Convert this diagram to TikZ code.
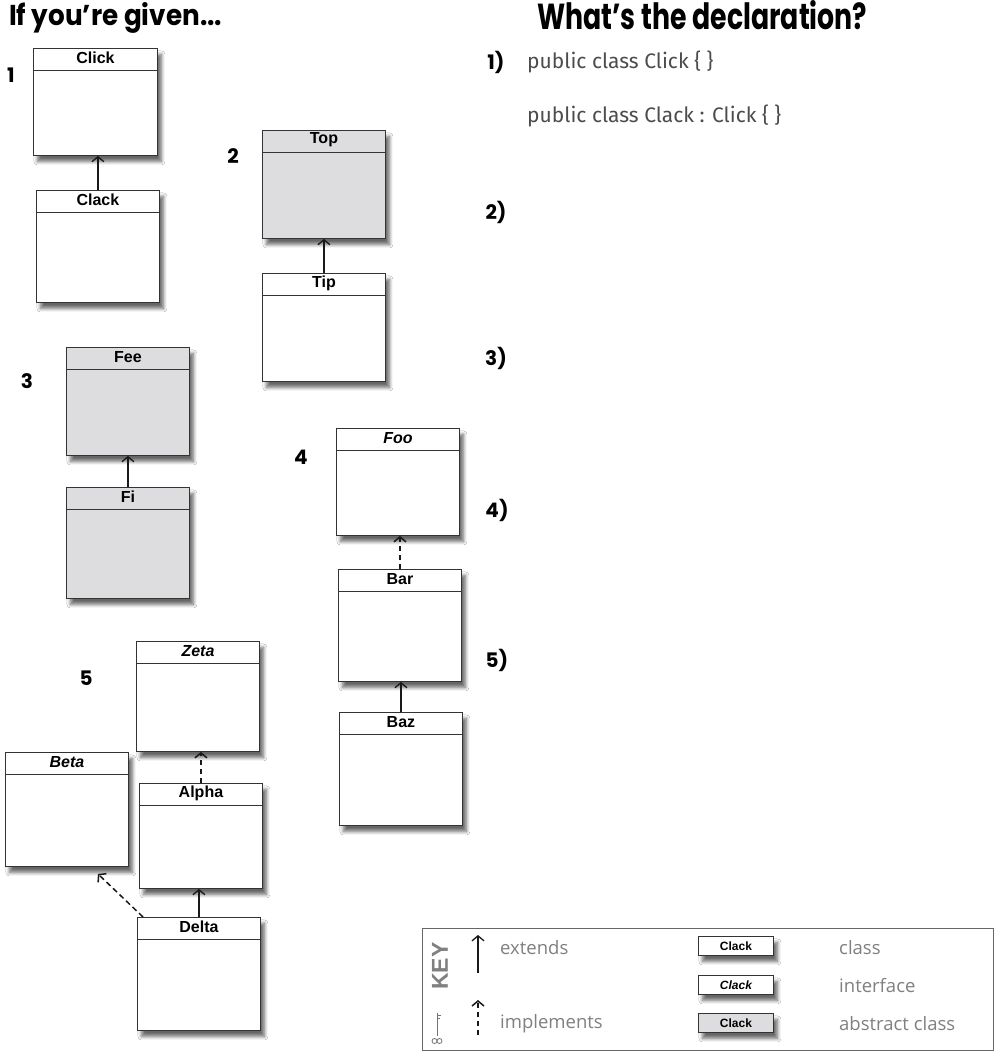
\documentclass[tikz,border=0pt]{standalone}
\usepackage{fontspec}
\setmainfont{Liberation Sans}
\newfontfamily\handfont{Poppins}
\newfontfamily\keyfont{Open Sans}
\newfontfamily\codefont{Fira Sans}
\usetikzlibrary{arrows.meta,shadows.blur}
\definecolor{absgray}{HTML}{DDDDE0}
\definecolor{linecol}{HTML}{333333}
\tikzset{
  cls/.style={draw=linecol, line width=0.9pt, rectangle, inner sep=0pt,
    blur shadow={shadow xshift=4pt, shadow yshift=-6pt, shadow blur steps=8, shadow blur radius=3.5pt, shadow opacity=60}},
  divider/.style={draw=linecol, line width=0.8pt},
  clstitle/.style={font=\bfseries\fontsize{16}{17}\selectfont, inner sep=0pt},
  ext/.style={draw=black!90, line width=1.3pt, -{Straight Barb[length=5pt,width=12pt]}},
  impl/.style={draw=black!90, line width=1.5pt, dash pattern=on 5.5pt off 3.5pt, -{Straight Barb[length=5pt,width=12pt]}},
  num/.style={font=\handfont\bfseries\fontsize{20}{22}\selectfont, inner sep=0pt},
  code/.style={font=\codefont\fontsize{21}{23}\selectfont, text=black!70, anchor=west, inner sep=0pt},
  keytxt/.style={font=\keyfont\fontsize{18.5}{20}\selectfont, text=black!50, anchor=west, inner sep=0pt},
  keybox/.style={cls, minimum width=75, minimum height=19, anchor=north west},
}
\newcommand\cbox[7]{%
  \node[cls, fill=#6, minimum width=#4, minimum height=#5, anchor=north west] (#1) at (#2,#3) {};
  \draw[divider] ([yshift=-22pt]#1.north west) -- ([yshift=-22pt]#1.north east);
  \node[clstitle] (#1t) at ([yshift=-10pt]#1.north) {#7};
}
\begin{document}
\begin{tikzpicture}[x=1pt,y=-1pt]
\useasboundingbox (0,0) rectangle (995,1052);
\fill[white] (0,0) rectangle (995,1052);

% titles
\node[anchor=base west, inner sep=0pt] (t1) at (9,25) {\handfont\bfseries\resizebox{213pt}{23pt}{If you’re given...}};
\node[anchor=base west, inner sep=0pt] (t2) at (537,29) {\handfont\bfseries\resizebox{330pt}{29pt}{What’s the declaration?}};

% numbers
\node[num] (n1) at (11,75) {1};
\node[num] (n2) at (233,156) {2};
\node[num] (n3) at (27,381) {3};
\node[num] (n4) at (301,457) {4};
\node[num] (n5) at (86,678) {5};

% answers
\node[num] (a1) at (496,62) {1)};
\node[code] (c1) at (527,62) {public class Click \{ \}};
\node[code] (c2) at (527,116) {public class Clack : Click \{ \}};
\node[num] (a2) at (496,212) {2)};
\node[num] (a3) at (496,358) {3)};
\node[num] (a4) at (497,510) {4)};
\node[num] (a5) at (497,660) {5)};

% class boxes
\cbox{click}{33}{48}{124}{107}{white}{Click}
\cbox{clack}{36}{190}{123}{112}{white}{Clack}
\cbox{top}{262}{130}{123}{108}{absgray}{Top}
\cbox{tip}{262}{273}{123}{108}{white}{Tip}
\cbox{fee}{66}{347}{123}{108}{absgray}{Fee}
\cbox{fi}{66}{487}{123}{111}{absgray}{Fi}
\cbox{foo}{336}{428}{123}{107}{white}{\itshape Foo}
\cbox{bar}{338}{569}{123}{112}{white}{Bar}
\cbox{baz}{339}{712}{123}{113}{white}{Baz}
\cbox{zeta}{136}{641}{123}{110}{white}{\itshape Zeta}
\cbox{beta}{5}{752}{123}{114}{white}{\itshape Beta}
\cbox{alpha}{139}{783}{123}{105}{white}{Alpha}
\cbox{delta}{137}{917}{123}{113}{white}{Delta}

% connectors
\draw[ext] (clack.north) -- (clack.north |- click.south);
\draw[ext] (tip.north) -- (tip.north |- top.south);
\draw[ext] (fi.north) -- (fi.north |- fee.south);
\draw[impl] (bar.north) -- (bar.north |- foo.south);
\draw[ext] (baz.north) -- (baz.north |- bar.south);
\draw[impl] (alpha.north) -- (alpha.north |- zeta.south);
\draw[ext] (delta.north) -- (delta.north |- alpha.south);
\draw[impl] ([xshift=6pt]delta.north west) -- ([xshift=31pt,yshift=-7pt]beta.south);

% key
\node[draw=black!60, line width=1pt, minimum width=571, minimum height=122, anchor=north west, inner sep=0pt] (key) at (422,928) {};
\node[rotate=90, font=\bfseries\fontsize{23}{23}\selectfont, text=black!50, inner sep=0pt] (keyword) at (440,966) {KEY};
\draw[black!55, line width=1pt] (437,1013) -- (437,1036);
\draw[black!55, line width=0.8pt] (437,1015) -- (441,1015) (437,1018) -- (440,1018);
\draw[black!55, line width=0.8pt] (434.5,1041) circle (2.5pt) (439.5,1041) circle (2.5pt);
\coordinate (e1) at (478,973);
\coordinate (e2) at (478,935);
\draw[ext] (e1) -- (e2);
\coordinate (i1) at (478,1035);
\coordinate (i2) at (478,1000);
\draw[impl] (i1) -- (i2);
\node[keytxt] (kext) at (500,948) {extends};
\node[keytxt] (kimp) at (500,1024) {implements};
\node[keybox, fill=white, font=\bfseries\fontsize{12}{13}\selectfont] (kc) at (698,936) {Clack};
\node[keybox, fill=white, font=\bfseries\itshape\fontsize{12}{13}\selectfont] (ki) at (698,975) {Clack};
\node[keybox, fill=absgray, font=\bfseries\fontsize{12}{13}\selectfont] (ka) at (698,1013) {Clack};
\node[keytxt] (lc) at (839,948) {class};
\node[keytxt] (li) at (839,986) {interface};
\node[keytxt] (la) at (839,1024) {abstract class};
\end{tikzpicture}
\end{document}
